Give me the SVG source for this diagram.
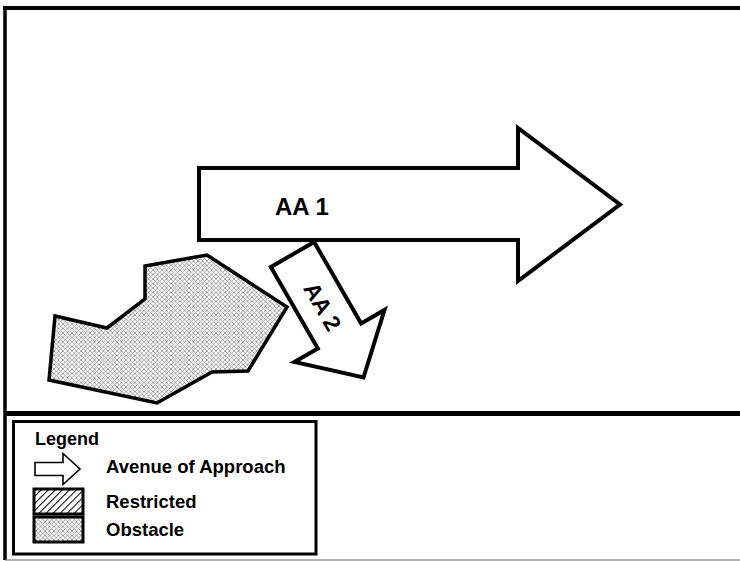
<svg xmlns="http://www.w3.org/2000/svg" width="740" height="561" viewBox="0 0 740 561">
  <style>
    .frame { stroke: #000; fill: none; }
    .arrow { fill: #fff; stroke: #000; stroke-width: 4; stroke-linejoin: miter; }
    .label { font-family: "Liberation Sans", Arial, sans-serif; font-weight: bold; fill: #000; }
    .obstacle { fill: url(#crosshatch); stroke: #000; stroke-width: 3.5; stroke-linejoin: miter; }
    .swatch { stroke: #000; stroke-width: 3; }
  </style>
  <defs>
    <pattern id="crosshatch" patternUnits="userSpaceOnUse" width="4.5" height="4.5">
      <rect width="4.5" height="4.5" fill="#fff"/>
      <path d="M0,0 L4.5,4.5 M4.5,0 L0,4.5" stroke="#666" stroke-width="0.6"/>
    </pattern>
    <pattern id="diagonal" patternUnits="userSpaceOnUse" width="5" height="5" patternTransform="rotate(45)">
      <rect width="5" height="5" fill="#fff"/>
      <line x1="0" y1="0" x2="0" y2="5" stroke="#000" stroke-width="2"/>
    </pattern>
  </defs>

  <rect width="740" height="561" fill="#fff"/>

  <!-- map frame -->
  <g id="frame">
    <line class="frame" x1="3" y1="8" x2="740" y2="8" stroke-width="4"/>
    <line class="frame" x1="5" y1="6" x2="5" y2="560" stroke-width="3.5"/>
    <line class="frame" x1="5" y1="413.5" x2="740" y2="413.5" stroke-width="5"/>
    <line x1="5" y1="560" x2="740" y2="560" stroke="#666" stroke-width="1.2"/>
  </g>

  <!-- obstacle area -->
  <g id="obstacle">
    <polygon class="obstacle" points="145,266 207,255 287,307 248,371 212,372 157,403 49,380 55,316 107,328 145,299"/>
  </g>

  <!-- avenue of approach 2 -->
  <g id="aa2" transform="translate(292.5,254.5) rotate(60)">
    <polygon class="arrow" points="0,-25 94,-25 94,-52 142,0 94,52 94,25 0,25"/>
    <text class="label" x="60" y="8" font-size="23" text-anchor="middle">AA 2</text>
  </g>

  <!-- avenue of approach 1 -->
  <g id="aa1">
    <polygon class="arrow" points="199,168 518,168 518,128 620,204.5 518,281 518,240 199,240"/>
    <text class="label" x="275" y="215" font-size="24">AA 1</text>
  </g>

  <!-- legend -->
  <g id="legend">
    <rect x="13.5" y="421.5" width="302.5" height="132.5" fill="#fff" stroke="#000" stroke-width="3"/>
    <text class="label" x="35" y="445" font-size="18">Legend</text>
    <polygon points="35,462.5 63,462.5 63,453.5 80,469 63,484.5 63,475.5 35,475.5" fill="#fff" stroke="#000" stroke-width="1.6"/>
    <text class="label" x="106" y="473" font-size="18.5">Avenue of Approach</text>
    <rect class="swatch" x="34" y="489" width="49" height="25" fill="url(#diagonal)"/>
    <text class="label" x="106" y="508" font-size="18.5">Restricted</text>
    <rect class="swatch" x="34" y="517" width="49" height="25" fill="url(#crosshatch)"/>
    <text class="label" x="106" y="536" font-size="18.5">Obstacle</text>
  </g>
</svg>
